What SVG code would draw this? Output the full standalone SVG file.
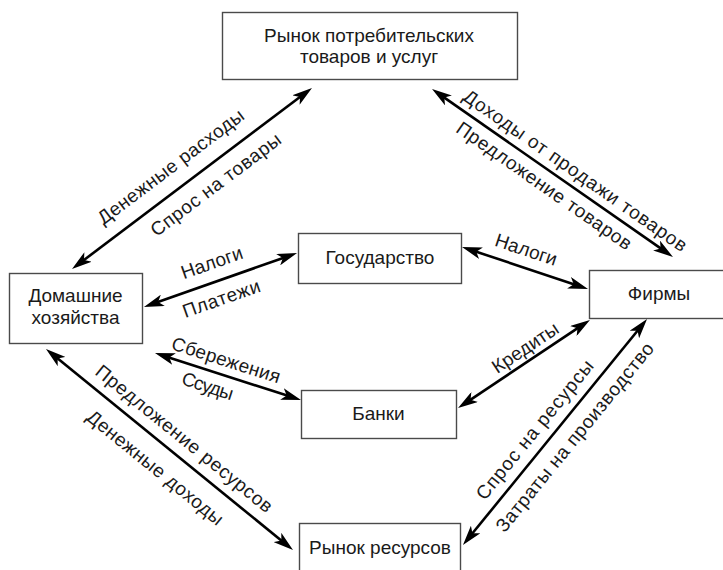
<svg xmlns="http://www.w3.org/2000/svg" width="723" height="570" viewBox="0 0 723 570">
<style>
.box{fill:#fff;stroke:#4a4a4a;stroke-width:1.4}
.t{font-family:"Liberation Sans",Arial,sans-serif;font-size:19px;fill:#1a1a1a;text-anchor:middle}
.c{fill:none;stroke:#000;stroke-width:2.6;marker-start:url(#ah);marker-end:url(#ah)}
</style>
<defs>
<marker id="ah" viewBox="0 0 20 12" refX="12" refY="6" markerWidth="20" markerHeight="12" markerUnits="userSpaceOnUse" orient="auto-start-reverse">
<path d="M20,6 L0,0 L5,6 L0,12 Z" fill="#000"/>
</marker>
</defs>
<rect width="723" height="570" fill="#fff"/>
<g id="connectors">
<path class="c" d="M78.4,264.2 L305.6,92.8"/>
<path class="c" d="M438.6,93.6 L666.4,252.4"/>
<path class="c" d="M151.5,304.3 L289.5,255.7"/>
<path class="c" d="M469.6,249.5 L580.4,286.5"/>
<path class="c" d="M162.6,355.4 L293.4,397.6"/>
<path class="c" d="M464.7,403.6 L583.3,324.4"/>
<path class="c" d="M468,538.8 L642,325.2"/>
<path class="c" d="M52.2,354 L286.8,545"/>
</g>
<g id="labels">
<text class="t" transform="translate(171,167) rotate(-37)" y="6" textLength="178">Денежные расходы</text>
<text class="t" transform="translate(216,185) rotate(-37)" y="6" textLength="158">Спрос на товары</text>
<text class="t" transform="translate(575,171) rotate(34.9)" y="6" textLength="268">Доходы от продажи товаров</text>
<text class="t" transform="translate(544,186) rotate(34.9)" y="6" textLength="209">Предложение товаров</text>
<text class="t" transform="translate(212,263) rotate(-19.4)" y="6" textLength="64">Налоги</text>
<text class="t" transform="translate(221.5,299) rotate(-19.4)" y="6" textLength="81">Платежи</text>
<text class="t" transform="translate(526,250) rotate(18.4)" y="6" textLength="64">Налоги</text>
<text class="t" transform="translate(226,360.5) rotate(17.8)" y="6" textLength="113">Сбережения</text>
<text class="t" transform="translate(207.5,386.5) rotate(17.8)" y="6" textLength="53">Ссуды</text>
<text class="t" transform="translate(525.5,348) rotate(-33.7)" y="6" textLength="76">Кредиты</text>
<text class="t" transform="translate(535,430) rotate(-50.8)" y="6" textLength="174">Спрос на ресурсы</text>
<text class="t" transform="translate(575,437.5) rotate(-50.8)" y="6" textLength="238">Затраты на производство</text>
<text class="t" transform="translate(184,439) rotate(39.1)" y="6" textLength="222">Предложение ресурсов</text>
<text class="t" transform="translate(155,468) rotate(39.1)" y="6" textLength="170">Денежные доходы</text>
</g>
<g id="market-goods">
<rect class="box" x="222.5" y="12.5" width="295" height="67"/>
<text class="t" x="369" y="42">Рынок потребительских</text>
<text class="t" x="369" y="63">товаров и услуг</text>
</g>
<g id="households">
<rect class="box" x="9.5" y="273.5" width="133" height="70"/>
<text class="t" x="75.5" y="302">Домашние</text>
<text class="t" x="75.5" y="324">хозяйства</text>
</g>
<g id="firms">
<rect class="box" x="589.5" y="270.5" width="140" height="48"/>
<text class="t" x="659" y="300">Фирмы</text>
</g>
<g id="government">
<rect class="box" x="298.5" y="233.5" width="163" height="50"/>
<text class="t" x="380" y="264">Государство</text>
</g>
<g id="banks">
<rect class="box" x="301.5" y="390.5" width="155" height="48"/>
<text class="t" x="378.5" y="420">Банки</text>
</g>
<g id="market-resources">
<rect class="box" x="299.5" y="523.5" width="161" height="60"/>
<text class="t" x="380" y="554">Рынок ресурсов</text>
</g>
</svg>
